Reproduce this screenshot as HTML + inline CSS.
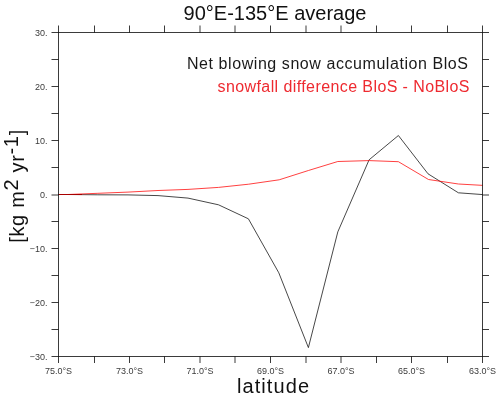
<!DOCTYPE html>
<html><head><meta charset="utf-8"><style>
html,body{margin:0;padding:0;background:#fff;width:500px;height:398px;overflow:hidden}
svg{position:absolute;left:0;top:0;font-family:"Liberation Sans",sans-serif;will-change:transform}
</style></head><body>
<svg width="500" height="398" viewBox="0 0 500 398">
<defs><clipPath id="c"><rect x="58.5" y="32.5" width="424.0" height="324.0"/></clipPath></defs>
<g clip-path="url(#c)" fill="none" stroke-width="1">
<polyline points="37.90,194.50 67.90,194.50 97.90,194.80 128.00,194.90 158.00,195.60 188.00,198.10 218.50,204.80 248.40,218.80 278.80,272.80 308.40,347.60 337.80,231.90 369.10,159.80 398.40,135.50 428.00,173.80 458.40,192.80 488.40,195.00" stroke="#000" stroke-opacity="0.72"/>
<polyline points="37.90,194.50 67.90,194.50 97.90,193.30 128.00,192.10 158.00,190.50 188.00,189.40 218.50,187.40 248.70,184.20 279.20,179.80 308.40,170.50 337.80,161.50 369.10,160.60 398.40,161.70 428.50,179.50 458.40,184.00 488.40,185.70" stroke="#f00" stroke-opacity="0.75"/>
<path d="M58.5 194.5H82" stroke="#a80000"/>
</g>
<rect x="58.5" y="32.5" width="424.0" height="324.0" fill="none" stroke="#000" stroke-opacity="0.77" stroke-width="1"/>
<path d="M58.50 25.50V32.50M58.50 356.50V363.00M94.50 25.50V32.50M94.50 356.50V363.00M129.50 25.50V32.50M129.50 356.50V363.00M164.50 25.50V32.50M164.50 356.50V363.00M200.00 25.50V32.50M200.00 356.50V363.00M235.00 25.50V32.50M235.00 356.50V363.00M270.50 25.50V32.50M270.50 356.50V363.00M306.00 25.50V32.50M306.00 356.50V363.00M341.00 25.50V32.50M341.00 356.50V363.00M376.50 25.50V32.50M376.50 356.50V363.00M411.50 25.50V32.50M411.50 356.50V363.00M447.50 25.50V32.50M447.50 356.50V363.00M482.50 25.50V32.50M482.50 356.50V363.00M51.50 32.50H58.50M482.50 32.50H489.00M51.50 59.50H58.50M482.50 59.50H489.00M51.50 86.50H58.50M482.50 86.50H489.00M51.50 113.50H58.50M482.50 113.50H489.00M51.50 140.50H58.50M482.50 140.50H489.00M51.50 167.50H58.50M482.50 167.50H489.00M51.50 195.00H58.50M482.50 195.00H489.00M51.50 221.50H58.50M482.50 221.50H489.00M51.50 248.50H58.50M482.50 248.50H489.00M51.50 275.50H58.50M482.50 275.50H489.00M51.50 302.50H58.50M482.50 302.50H489.00M51.50 329.50H58.50M482.50 329.50H489.00M51.50 356.50H58.50M482.50 356.50H489.00" stroke="#000" stroke-opacity="0.77" stroke-width="1" fill="none"/>
<g font-size="9.2" fill="#3a3a3a">
<text x="58.50" y="373.6" text-anchor="middle" textLength="27.1" lengthAdjust="spacingAndGlyphs">75.0°S</text>
<text x="129.50" y="373.6" text-anchor="middle" textLength="27.1" lengthAdjust="spacingAndGlyphs">73.0°S</text>
<text x="200.00" y="373.6" text-anchor="middle" textLength="27.1" lengthAdjust="spacingAndGlyphs">71.0°S</text>
<text x="270.50" y="373.6" text-anchor="middle" textLength="27.1" lengthAdjust="spacingAndGlyphs">69.0°S</text>
<text x="341.00" y="373.6" text-anchor="middle" textLength="27.1" lengthAdjust="spacingAndGlyphs">67.0°S</text>
<text x="411.50" y="373.6" text-anchor="middle" textLength="27.1" lengthAdjust="spacingAndGlyphs">65.0°S</text>
<text x="482.50" y="373.6" text-anchor="middle" textLength="27.1" lengthAdjust="spacingAndGlyphs">63.0°S</text>
<text x="47.5" y="35.50" text-anchor="end" textLength="12.51" lengthAdjust="spacingAndGlyphs">30.</text>
<text x="47.5" y="89.50" text-anchor="end" textLength="12.51" lengthAdjust="spacingAndGlyphs">20.</text>
<text x="47.5" y="143.50" text-anchor="end" textLength="12.51" lengthAdjust="spacingAndGlyphs">10.</text>
<text x="47.5" y="197.50" text-anchor="end" textLength="7.51" lengthAdjust="spacingAndGlyphs">0.</text>
<text x="47.5" y="251.50" text-anchor="end" textLength="17.77" lengthAdjust="spacingAndGlyphs">−10.</text>
<text x="47.5" y="305.50" text-anchor="end" textLength="17.77" lengthAdjust="spacingAndGlyphs">−20.</text>
<text x="47.5" y="359.50" text-anchor="end" textLength="17.77" lengthAdjust="spacingAndGlyphs">−30.</text>
</g>
<text x="275" y="20.1" font-size="20.5" text-anchor="middle" fill="#111" textLength="183" lengthAdjust="spacingAndGlyphs">90°E-135°E average</text>
<text x="468" y="69.3" font-size="16" text-anchor="end" fill="#1a1a1a" textLength="281" lengthAdjust="spacing">Net blowing snow accumulation BloS</text>
<text x="469.5" y="92.0" font-size="16" text-anchor="end" fill="#ee2a30" textLength="252" lengthAdjust="spacing">snowfall difference BloS - NoBloS</text>
<text x="273" y="392.5" font-size="20" text-anchor="middle" fill="#111" textLength="72" lengthAdjust="spacing">latitude</text>
<text transform="translate(23.7,186.3) rotate(-90)" font-size="20" text-anchor="middle" fill="#111" textLength="113" lengthAdjust="spacing">[kg m<tspan dy="-6">2</tspan><tspan dy="6"> yr</tspan><tspan dy="-6">-1</tspan><tspan dy="6">]</tspan></text>
</svg>
</body></html>
